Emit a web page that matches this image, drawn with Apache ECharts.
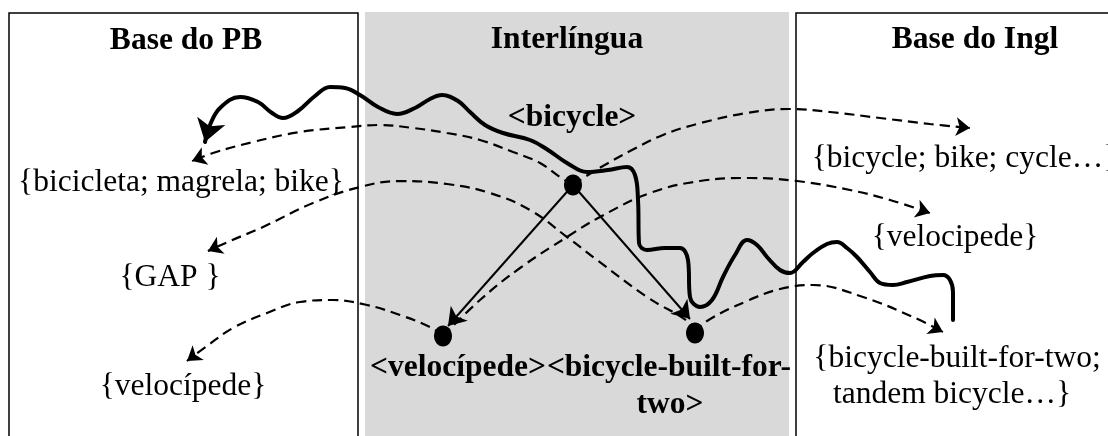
<!DOCTYPE html>
<html>
<head>
<meta charset="utf-8">
<script src="https://cdn.jsdelivr.net/npm/echarts@6/dist/echarts.min.js"></script>
<style>
  html, body { margin: 0; padding: 0; background: #fff; }
  #chart { width: 1108px; height: 436px; }
</style>
</head>
<body>
<div id="chart"></div>
<script>
// Diagram coordinates are pixels of the 1108x436 frame, y growing downward.
const X_MAX = 1108, Y_MAX = 436;

// gray interlingua column: [corner, corner]
const grayPanel = [[365, 12], [789, 436]];
// open box outlines (their far sides run off the frame)
const leftBox = [[9, 450], [9, 13], [358, 13], [358, 450]];
const rightBox = [[1130, 13], [796, 13], [796, 450]];

// texts: [label, x centre, y centre]
const titles = [['Base do PB', 186, 40.5], ['Interlíngua', 567, 39.5], ['Base do Ingl', 975, 39.5]];
const concepts = [['<bicycle>', 572, 117.5], ['<velocípede>', 458, 367.5], ['<bicycle-built-for-', 669, 367.5], ['two>', 670, 404.5]];
const words = [
  ['{bicicleta; magrela; bike}', 181, 182.5], ['{GAP }', 170, 277.5], ['{velocípede}', 183, 386.5],
  ['{bicycle; bike; cycle…}', 965, 158.5], ['{velocipede}', 955, 237.5],
  ['{bicycle-built-for-two;', 957, 358.5], ['tandem bicycle…}', 952, 394.5],
];

// interlingua nodes
const nodes = [[573, 185], [443, 336], [695, 333]];

// solid links from <bicycle> to its two children (start, arrow tip)
const links = [[[573, 185], [448, 326]], [[573, 185], [690, 319]]];

// dashed mappings, node -> word set (last point is the arrow tip)
const arcBicycleToPB = [[573,185],[560,177],[540,163],[513,152],[480,140],[447,133],[413,128],[380,125],[350,127],[300,132],[253,142],[213,153],[192,161]];
const arcBicycleToEN = [[573,185],[588,175],[603,166],[630,151],[663,135],[697,124],[747,113],[789,109],[830,112],[880,118],[930,124],[970,128]];
const arcVelocToPB = [[443,336],[430,327],[400,315],[367,305],[333,300],[300,302],[267,313],[233,328],[207,346],[187,361]];
const arcVelocToEN = [[443,336],[480,300],[520,268],[567,237],[600,217],[650,193],[700,181],[750,178],[797,181],[850,190],[890,200],[930,213]];
const arcTandemToPB = [[695,333],[690,323],[647,297],[597,260],[567,237],[530,210],[490,193],[447,184],[400,181],[360,187],[313,203],[263,227],[230,241],[208,251]];
const arcTandemToEN = [[695,333],[707,321],[747,301],[780,289],[813,285],[863,297],[913,317],[943,332]];
const arcs = [arcBicycleToPB, arcBicycleToEN, arcVelocToPB, arcVelocToEN, arcTandemToPB, arcTandemToEN];

// the thick wavy path; arrow tip is the first point
const wave = [[205,142],[210,125],[220,108],[240,97],[258,102],[272,113],[283,118],[298,111],[315,96],[330,87],[345,88],[360,95],[378,107],[397,114],[415,108],[430,99],[442,95],[458,101],[470,112],[485,125],[503,133],[530,140],[548,150],[567,163],[587,172],[608,170],[627,167],[635,175],[638,200],[639,243],[647,250],[665,248],[680,248],[688,260],[690,297],[700,307],[712,300],[723,277],[735,255],[747,240],[757,245],[767,257],[780,270],[790,273],[803,262],[813,253],[827,244],[837,242],[847,248],[857,257],[870,272],[880,283],[893,285],[907,282],[930,276],[943,275],[950,280],[953,292],[953,320]];

const SERIF = '"Liberation Serif", "Times New Roman", serif';
const FS = 31.5;

// short segment ending on the tip, only there to carry the arrow symbol
function headSegment(from, tip) {
  const dx = tip[0] - from[0], dy = tip[1] - from[1], d = Math.hypot(dx, dy);
  return [[tip[0] - dx / d * 5, tip[1] - dy / d * 5], tip];
}

function textSeries(list, weight) {
  return {
    type: 'scatter', z: 6, silent: true, symbolSize: 1,
    itemStyle: { color: 'rgba(0,0,0,0)', opacity: 1 },
    data: list.map((t) => ({ name: t[0], value: [t[1], t[2]] })),
    label: {
      show: true, position: 'inside', formatter: '{b}', color: '#000', opacity: 1,
      fontFamily: SERIF, fontSize: FS, fontWeight: weight,
    },
  };
}

function arrowLines(data, size, width) {
  return {
    type: 'lines', coordinateSystem: 'cartesian2d', z: 4, silent: true,
    symbol: ['none', 'arrow'], symbolSize: size,
    lineStyle: { color: '#000', width: width, type: 'solid', curveness: 0, opacity: 1 },
    data: data,
  };
}

const option = {
  animation: false,
  backgroundColor: '#fff',
  grid: { left: 0, top: 0, right: 0, bottom: 0 },
  xAxis: { type: 'value', min: 0, max: X_MAX, show: false },
  yAxis: { type: 'value', min: 0, max: Y_MAX, inverse: true, show: false },
  series: [
    {
      type: 'line', data: [], z: 0, silent: true,
      markArea: {
        silent: true, label: { show: false },
        data: [[{ coord: grayPanel[0], itemStyle: { color: '#d9d9d9', opacity: 1 } }, { coord: grayPanel[1] }]],
      },
    },
    {
      type: 'lines', coordinateSystem: 'cartesian2d', polyline: true, z: 1, silent: true, clip: false,
      lineStyle: { color: '#000', width: 1.5, opacity: 1 },
      data: [{ coords: leftBox }, { coords: rightBox }],
    },
    ...arcs.map((pts) => ({
      type: 'line', z: 3, silent: true, smooth: 0.4, symbol: 'none', data: pts,
      lineStyle: { color: '#000', width: 2.2, type: [10, 6] },
    })),
    {
      type: 'line', z: 4, silent: true, smooth: 0.4, symbol: 'none', data: wave,
      lineStyle: { color: '#000', width: 4, cap: 'round', join: 'round' },
    },
    // heads of the dashed mappings
    arrowLines(arcs.map((pts) => ({ coords: headSegment(pts[pts.length - 2], pts[pts.length - 1]) })), [11, 14], 1.5),
    // head of the wavy path
    arrowLines([{ coords: headSegment(wave[1], wave[0]) }], [15, 22], 3),
    // solid links
    arrowLines(links.map((l) => ({ coords: [l[0], l[1]] })), [12, 17], 2),
    {
      type: 'scatter', z: 5, silent: true,
      symbol: 'path://M0,-1C0.552,-1,1,-0.552,1,0C1,0.552,0.552,1,0,1C-0.552,1,-1,0.552,-1,0C-1,-0.552,-0.552,-1,0,-1Z',
      symbolKeepAspect: false,
      symbolSize: [18, 21], itemStyle: { color: '#000', opacity: 1 }, data: nodes,
    },
    textSeries(titles, 'bold'),
    textSeries(concepts, 'bold'),
    textSeries(words, 'normal'),
  ],
};

const chart = echarts.init(document.getElementById('chart'), null, { renderer: 'canvas' });
chart.setOption(option);
</script>
</body>
</html>
